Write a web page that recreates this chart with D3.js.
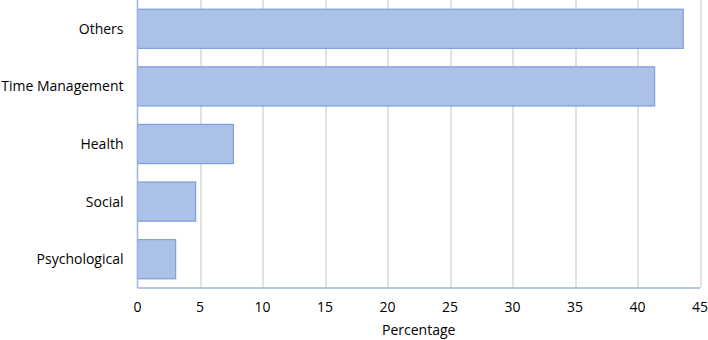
<!DOCTYPE html>
<html>
<head>
<meta charset="utf-8">
<script src="https://cdnjs.cloudflare.com/ajax/libs/d3/7.8.5/d3.min.js"></script>
<style>
  body { margin: 0; background: #fff; }
  text { font-family: "Open Sans", "Noto Sans", sans-serif; fill: #000; }
</style>
</head>
<body>
<div id="chart"></div>
<script>
var categories = ["Others", "Time Management", "Health", "Social", "Psychological"];
var values = [43.66, 41.37, 7.67, 4.65, 3.05];
var ticks = [0, 5, 10, 15, 20, 25, 30, 35, 40, 45];
var axisTitle = "Percentage";

var width = 708, height = 340;
var margin = { top: 0, right: 8, bottom: 52, left: 137.5 };
var innerW = width - margin.left - margin.right;
var innerH = height - margin.top - margin.bottom;

var svg = d3.select('#chart')
  .append('svg')
  .attr('width', width)
  .attr('height', height);

var g = svg.append('g')
  .attr('transform', 'translate(' + margin.left + ',' + margin.top + ')');

var x = d3.scaleLinear().domain([0, 45]).range([0, innerW]);
var y = d3.scaleBand().domain(categories).range([0, innerH]).paddingInner(0.32).paddingOuter(0.16);

// gridlines
g.selectAll('.grid')
  .data(ticks.slice(1))
  .enter()
  .append('line')
  .attr('x1', function(d) { return Math.round(x(d)) + 0.5; })
  .attr('x2', function(d) { return Math.round(x(d)) + 0.5; })
  .attr('y1', 0)
  .attr('y2', innerH)
  .attr('stroke', '#d9d9d9')
  .attr('stroke-width', 1.5);

// bars
g.selectAll('.bar')
  .data(values)
  .enter()
  .append('rect')
  .attr('x', x(0))
  .attr('y', function(d, i) { return y(categories[i]); })
  .attr('width', function(d) { return x(d) - x(0); })
  .attr('height', y.bandwidth())
  .attr('fill', '#abc1e8')
  .attr('stroke', '#7f9fd8')
  .attr('stroke-width', 1.2);

// axis lines
g.append('line')
  .attr('x1', 0).attr('x2', innerW)
  .attr('y1', innerH).attr('y2', innerH)
  .attr('stroke', '#9db4dc').attr('stroke-width', 1.5);
g.append('line')
  .attr('x1', 0).attr('x2', 0)
  .attr('y1', 0).attr('y2', innerH)
  .attr('stroke', '#9db4dc').attr('stroke-width', 1.5);

// x tick labels
g.selectAll('.xt')
  .data(ticks)
  .enter()
  .append('text')
  .attr('x', function(d) { return x(d); })
  .attr('y', innerH + 24)
  .attr('text-anchor', 'middle')
  .style('font-size', '14px')
  .text(function(d) { return d; });

// category labels
g.selectAll('.yt')
  .data(categories)
  .enter()
  .append('text')
  .attr('x', -14)
  .attr('y', function(d) { return y(d) + y.bandwidth() / 2; })
  .attr('dy', '0.35em')
  .attr('text-anchor', 'end')
  .style('font-size', '14px')
  .text(function(d) { return d; });

// axis title
g.append('text')
  .attr('x', innerW / 2)
  .attr('y', innerH + 47)
  .attr('text-anchor', 'middle')
  .style('font-size', '14px')
  .text(axisTitle);
</script>
</body>
</html>
